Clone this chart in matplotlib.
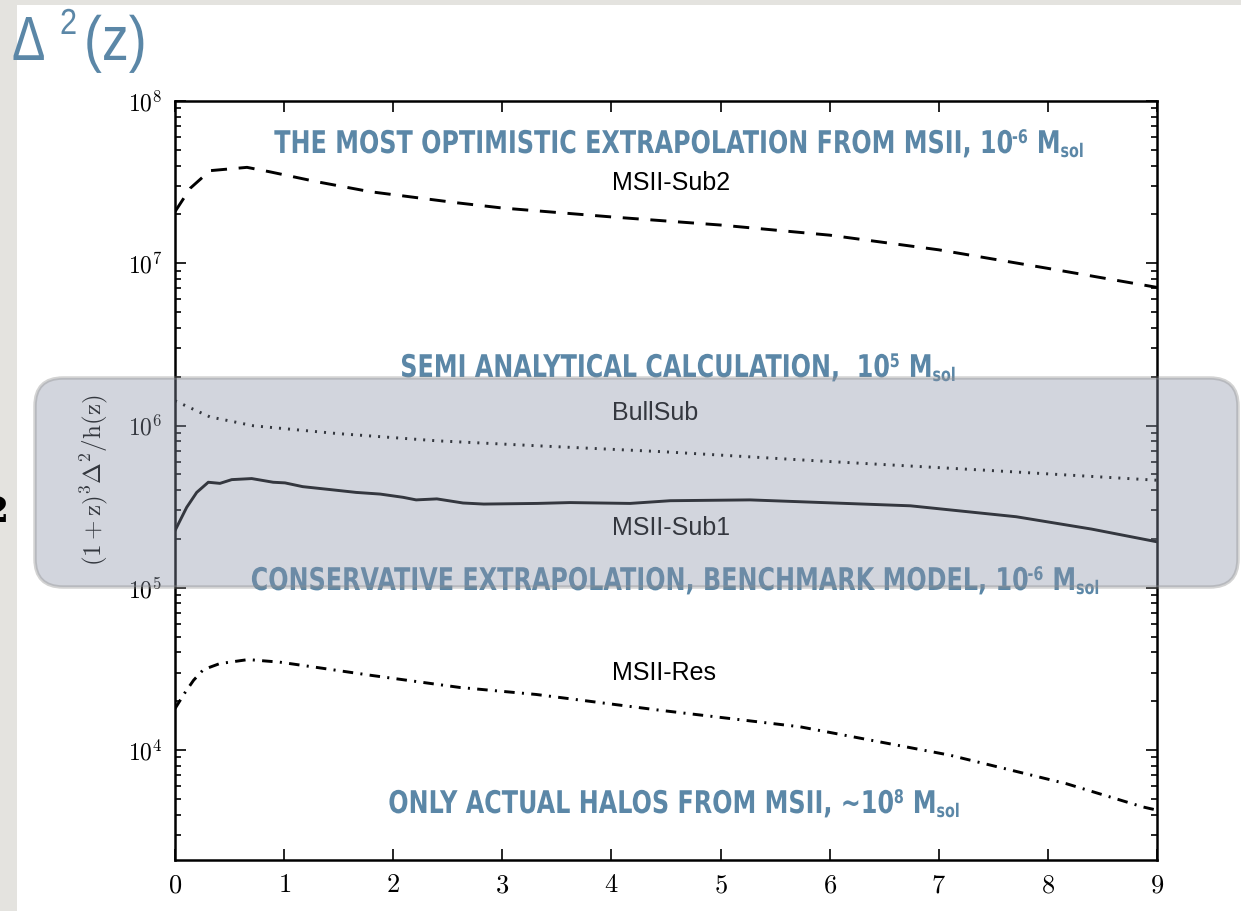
import matplotlib
matplotlib.use("Agg")
import matplotlib.pyplot as plt
import numpy as np
from matplotlib.patches import Rectangle, FancyBboxPatch
from matplotlib.patheffects import AbstractPathEffect
from matplotlib.transforms import IdentityTransform, Affine2D
from matplotlib.ticker import FuncFormatter, LogLocator, NullFormatter, MultipleLocator

# (1+z)^3 Delta^2 / h(z) read along redshift for each halo model
z_sub2 = [0, 0.14, 0.32, 0.66, 0.87, 1.3, 1.79, 2.58, 3, 4, 5, 6, 7, 8, 9]
boost_sub2 = [2.08e7, 2.9e7, 3.72e7, 3.9e7, 3.66e7, 3.18e7, 2.76e7, 2.36e7,
              2.19e7, 1.93e7, 1.72e7, 1.49e7, 1.21e7, 9.3e6, 7.1e6]

z_bull = [0, 0.32, 0.72, 1.48, 2.4, 3.32, 4.48, 5.88, 7.41, 9]
boost_bull = [1.42e6, 1.13e6, 9.96e5, 8.93e5, 8.05e5, 7.5e5, 6.89e5, 6.06e5,
              5.31e5, 4.6e5]

z_sub1 = [0, 0.107, 0.199, 0.305, 0.412, 0.52, 0.703, 0.9, 1.008, 1.17, 1.42,
          1.66, 1.88, 2.09, 2.21, 2.4, 2.64, 2.83, 3.32, 3.62, 4.17, 4.54,
          5.27, 6.74, 7.71, 8.4, 9]
boost_sub1 = [2.25e5, 3.13e5, 3.87e5, 4.47e5, 4.4e5, 4.64e5, 4.71e5, 4.47e5,
              4.43e5, 4.2e5, 4.03e5, 3.87e5, 3.78e5, 3.61e5, 3.48e5, 3.53e5,
              3.33e5, 3.28e5, 3.31e5, 3.35e5, 3.31e5, 3.44e5, 3.48e5, 3.2e5,
              2.74e5, 2.3e5, 1.92e5]

z_res = [0, 0.09, 0.17, 0.26, 0.41, 0.67, 0.96, 1.27, 1.79, 2.61, 3.31, 4.44,
         5.73, 7.1, 8.17, 8.87, 9]
boost_res = [1.8e4, 2.25e4, 2.69e4, 3.13e4, 3.41e4, 3.61e4, 3.48e4, 3.25e4,
             2.89e4, 2.43e4, 2.2e4, 1.76e4, 1.39e4, 9.3e3, 6.2e3, 4.46e3, 4.26e3]

model_names = ["MSII-Sub2", "BullSub", "MSII-Sub1", "MSII-Res"]
# band description text and the mass exponent that follows it
band_text = ["THE MOST OPTIMISTIC EXTRAPOLATION FROM MSII, 10",
             "SEMI ANALYTICAL CALCULATION,  10",
             "CONSERVATIVE EXTRAPOLATION, BENCHMARK MODEL, 10",
             "ONLY ACTUAL HALOS FROM MSII, ~10"]
band_exp = ["-6", "5", "-6", "8"]

plt.rcParams["mathtext.fontset"] = "cm"

W, H = 1241, 911
blue = "#5b87a7"


def fx(px):
    return px / W


def fy(py):
    return 1 - py / H


class Squeeze(AbstractPathEffect):
    """Draw text rescaled by (sx, sy) about the display point (x0, y0)."""

    def __init__(self, sx, x0, sy=1.0, y0=0.0):
        super().__init__()
        self._sx, self._sy = sx, sy
        self._x0, self._y0 = x0, y0

    def draw_path(self, renderer, gc, tpath, affine, rgbFace=None):
        sq = (Affine2D().translate(-self._x0, -self._y0)
              .scale(self._sx, self._sy).translate(self._x0, self._y0))
        renderer.draw_path(gc, tpath, affine + sq, rgbFace)


fig = plt.figure(figsize=(W / 100, H / 100), dpi=100)
fig.patch.set_facecolor("#e4e3df")
fig.patches.append(Rectangle((fx(17), 0), 1 - fx(17), fy(5), transform=fig.transFigure,
                             facecolor="white", edgecolor="none", zorder=-2))

ax = fig.add_axes([fx(175), fy(860), fx(1157) - fx(175), fy(101) - fy(860)])
ax.plot(z_sub2, boost_sub2, color="black", lw=2.1, linestyle=(0, (5.5, 4)))
ax.plot(z_bull, boost_bull, color="black", lw=2.1, linestyle=(0, (0.7, 2.4)))
ax.plot(z_sub1, boost_sub1, color="black", lw=2.1)
ax.plot(z_res, boost_res, color="black", lw=2.1, linestyle=(0, (3.6, 2.5, 0.7, 2.5)))

ax.set_yscale("log")
ax.set_xlim(0, 9)
ax.set_ylim(2.1e3, 1e8)
ax.xaxis.set_major_locator(MultipleLocator(1))
ax.xaxis.set_major_formatter(FuncFormatter(lambda v, _: r"$%d$" % round(v)))
ax.yaxis.set_major_locator(LogLocator(base=10, numticks=10))
ax.yaxis.set_minor_locator(LogLocator(base=10, subs=np.arange(2, 10), numticks=20))
ax.yaxis.set_major_formatter(FuncFormatter(lambda v, _: r"$10^{%d}$" % round(np.log10(v))))
ax.yaxis.set_minor_formatter(NullFormatter())
ax.tick_params(which="both", direction="in", top=True, right=True, width=1.2)
ax.tick_params(which="major", length=8, pad=9)
ax.tick_params(which="minor", length=4)
ax.tick_params(axis="x", labelsize=19)
ax.tick_params(axis="y", labelsize=17)
for s in ax.spines.values():
    s.set_linewidth(1.8)

ax.set_xlabel(r"$\mathrm{z}$", fontsize=19)
ax.xaxis.set_label_coords(0.5, -0.058)
ax.set_ylabel(r"$(1+\mathrm{z})^3\Delta^2/\mathrm{h(z)}$", fontsize=18)
ax.yaxis.set_label_coords(-0.066, 0.5)

# model names next to each curve
for name, py in zip(model_names, [183, 413, 528, 673]):
    fig.text(fx(612), fy(py), name, fontsize=18, family="Liberation Sans",
             ha="left", va="center", color="black", zorder=1)

renderer = fig.canvas.get_renderer()


def band_label(text, exp, cx, base, size=18, sx=0.956, sy=1.25):
    # text, raised exponent, "M" and lowered "sol" laid out left to right,
    # then drawn narrow and tall about the centre of the baseline
    pieces = [(text, size, 0, 0), (exp, size * 0.6, 10, 9), ("M", size, 0, 0),
              ("sol", size * 0.6, -4, 0)]
    arts = []
    for s, fs, dy, gap in pieces:
        t = fig.text(0, 0, s, fontsize=fs, family="DejaVu Sans", weight="bold",
                     ha="left", va="baseline", color=blue, zorder=1)
        arts.append((t, dy / sy, gap / sx, t.get_window_extent(renderer).width))
    total = sum(w + gap for _, _, gap, w in arts)
    x = cx - total / 2
    for t, dy, gap, w in arts:
        t.set_position((fx(x), fy(base - dy)))
        t.set_path_effects([Squeeze(sx, cx, sy, H - base)])
        x += w + gap


for text, exp, (cx, base) in zip(band_text, band_exp,
                                 [(679, 153), (678, 377), (675, 590), (674, 813)]):
    band_label(text, exp, cx, base)

# translucent highlight across the middle band
box = FancyBboxPatch((35, H - 587), 1203, 209, boxstyle="round,pad=0,rounding_size=28",
                     transform=IdentityTransform(), facecolor="#8a93a6", alpha=0.38,
                     edgecolor="#8c8c8c", linewidth=2.5, zorder=2)
fig.patches.append(box)

# slide heading
fig.text(fx(12), fy(60), "Δ", fontsize=45, family="Liberation Sans", color=blue,
         ha="left", va="baseline", zorder=3, path_effects=[Squeeze(0.8, 12)])
fig.text(fx(60), fy(34), "2", fontsize=26, family="Liberation Sans", color=blue,
         ha="left", va="baseline", zorder=3, path_effects=[Squeeze(0.85, 60)])
fig.text(fx(84), fy(60), "(z)", fontsize=45, family="Liberation Sans", color=blue,
         ha="left", va="baseline", zorder=3, path_effects=[Squeeze(0.86, 84)])
fig.text(fx(9), fy(512), "2", fontsize=26, family="DejaVu Serif", weight="bold",
         ha="right", va="center", color="black", zorder=3)

fig.savefig("out.png", dpi=100, facecolor=fig.get_facecolor())
